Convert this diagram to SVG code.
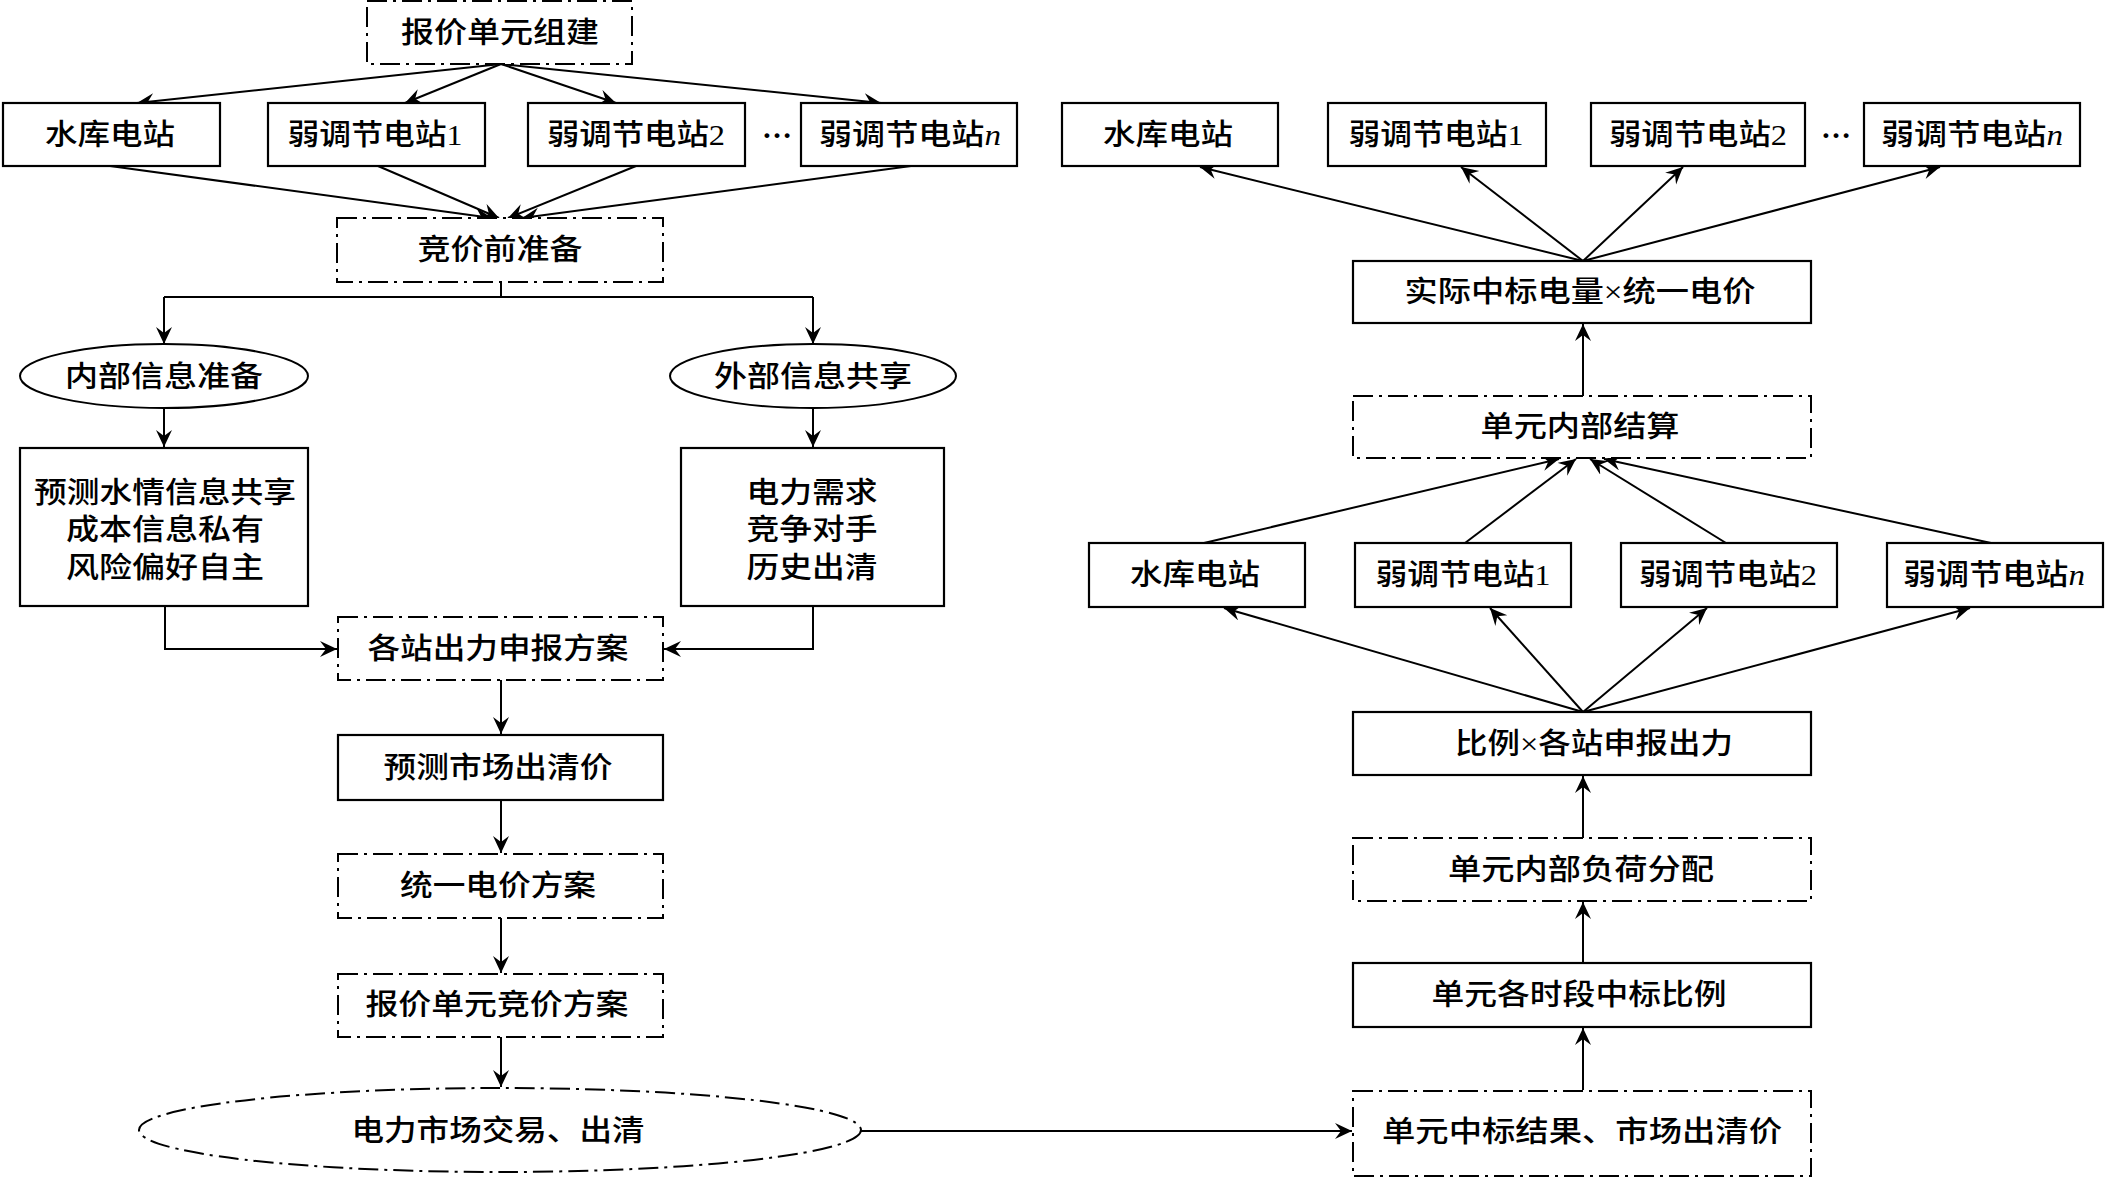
<svg xmlns="http://www.w3.org/2000/svg" width="2107" height="1178" viewBox="0 0 2107 1178">
<style>
.bx{fill:#fff;stroke:#000;stroke-width:2.2}
.dd{fill:#fff;stroke:#000;stroke-width:2;stroke-dasharray:20 6 3 6}
.t{font-family:"Liberation Serif","Noto Sans CJK SC",serif;font-size:29px;font-weight:500;fill:#000;text-anchor:middle}
.it{font-style:italic}
.dots{font-family:"Liberation Serif",serif;font-size:30px;font-weight:bold;fill:#000;text-anchor:middle}
.c{fill:none;stroke:#000;stroke-width:2}
</style>
<defs>
<marker id="ah" markerUnits="userSpaceOnUse" markerWidth="20" markerHeight="18" refX="17" refY="8" orient="auto">
<path d="M0,0 L17,8 L0,16 L6,8 z" fill="#000"/>
</marker>
</defs>
<rect width="2107" height="1178" fill="#fff"/>

<g id="connectors">
<path class="c" d="M501,64 L137,103" marker-end="url(#ah)"/>
<path class="c" d="M501,64 L405,103" marker-end="url(#ah)"/>
<path class="c" d="M501,64 L616,103" marker-end="url(#ah)"/>
<path class="c" d="M501,64 L881,103" marker-end="url(#ah)"/>
<path class="c" d="M110,166 L492,218" marker-end="url(#ah)"/>
<path class="c" d="M378,166 L499,218" marker-end="url(#ah)"/>
<path class="c" d="M636,166 L508,218" marker-end="url(#ah)"/>
<path class="c" d="M911,166 L522,218" marker-end="url(#ah)"/>
<path class="c" d="M501,282 L501,297"/>
<path class="c" d="M164,297 L813,297"/>
<path class="c" d="M164,297 L164,344" marker-end="url(#ah)"/>
<path class="c" d="M813,297 L813,344" marker-end="url(#ah)"/>
<path class="c" d="M164,408 L164,447" marker-end="url(#ah)"/>
<path class="c" d="M813,408 L813,447" marker-end="url(#ah)"/>
<path class="c" d="M165,606 L165,649 L337,649" marker-end="url(#ah)"/>
<path class="c" d="M813,606 L813,649 L664,649" marker-end="url(#ah)"/>
<path class="c" d="M501,680 L501,734" marker-end="url(#ah)"/>
<path class="c" d="M501,800 L501,853" marker-end="url(#ah)"/>
<path class="c" d="M501,918 L501,973" marker-end="url(#ah)"/>
<path class="c" d="M501,1037 L501,1087" marker-end="url(#ah)"/>
<path class="c" d="M861,1131 L1352,1131" marker-end="url(#ah)"/>
<path class="c" d="M1583,1090 L1583,1028" marker-end="url(#ah)"/>
<path class="c" d="M1583,963 L1583,902" marker-end="url(#ah)"/>
<path class="c" d="M1583,838 L1583,776" marker-end="url(#ah)"/>
<path class="c" d="M1583,712 L1224,608" marker-end="url(#ah)"/>
<path class="c" d="M1583,712 L1490,608" marker-end="url(#ah)"/>
<path class="c" d="M1583,712 L1707,608" marker-end="url(#ah)"/>
<path class="c" d="M1583,712 L1970,608" marker-end="url(#ah)"/>
<path class="c" d="M1204,543 L1559,459" marker-end="url(#ah)"/>
<path class="c" d="M1465,543 L1576,459" marker-end="url(#ah)"/>
<path class="c" d="M1726,543 L1590,459" marker-end="url(#ah)"/>
<path class="c" d="M1991,543 L1604,459" marker-end="url(#ah)"/>
<path class="c" d="M1583,396 L1583,324" marker-end="url(#ah)"/>
<path class="c" d="M1583,261 L1200,167" marker-end="url(#ah)"/>
<path class="c" d="M1583,261 L1461,167" marker-end="url(#ah)"/>
<path class="c" d="M1583,261 L1683,167" marker-end="url(#ah)"/>
<path class="c" d="M1583,261 L1940,167" marker-end="url(#ah)"/>
</g>

<g id="n_zujian"><rect class="dd" x="367" y="1" width="265" height="63"/><text class="t" x="500" y="43" textLength="198" lengthAdjust="spacingAndGlyphs">报价单元组建</text></g>

<g id="n_l_sk"><rect class="bx" x="3" y="103" width="217" height="63"/><text class="t" x="110" y="145" textLength="130" lengthAdjust="spacingAndGlyphs">水库电站</text></g>
<g id="n_l_r1"><rect class="bx" x="268" y="103" width="217" height="63"/><text class="t" x="375" y="145" textLength="175" lengthAdjust="spacingAndGlyphs">弱调节电站1</text></g>
<g id="n_l_r2"><rect class="bx" x="528" y="103" width="217" height="63"/><text class="t" x="636" y="145" textLength="178" lengthAdjust="spacingAndGlyphs">弱调节电站2</text></g>
<g id="n_l_dots"><text class="dots" x="777" y="138">…</text></g>
<g id="n_l_rn"><rect class="bx" x="801" y="103" width="216" height="63"/><text class="t" x="910" y="145" textLength="182" lengthAdjust="spacingAndGlyphs">弱调节电站<tspan class="it">n</tspan></text></g>

<g id="n_jjqzb"><rect class="dd" x="337" y="218" width="326" height="64"/><text class="t" x="500" y="260" textLength="165" lengthAdjust="spacingAndGlyphs">竞价前准备</text></g>

<g id="n_nbxx"><ellipse cx="164" cy="376" rx="144" ry="32" fill="#fff" stroke="#000" stroke-width="2"/><text class="t" x="164" y="387" textLength="198" lengthAdjust="spacingAndGlyphs">内部信息准备</text></g>
<g id="n_wbxx"><ellipse cx="813" cy="376" rx="143" ry="32" fill="#fff" stroke="#000" stroke-width="2"/><text class="t" x="813" y="387" textLength="198" lengthAdjust="spacingAndGlyphs">外部信息共享</text></g>

<g id="n_nbbox"><rect class="bx" x="20" y="448" width="288" height="158"/>
<text class="t" x="165" y="503" textLength="262" lengthAdjust="spacingAndGlyphs">预测水情信息共享</text>
<text class="t" x="165" y="540" textLength="198" lengthAdjust="spacingAndGlyphs">成本信息私有</text>
<text class="t" x="165" y="578" textLength="198" lengthAdjust="spacingAndGlyphs">风险偏好自主</text></g>
<g id="n_wbbox"><rect class="bx" x="681" y="448" width="263" height="158"/>
<text class="t" x="812" y="503" textLength="131" lengthAdjust="spacingAndGlyphs">电力需求</text>
<text class="t" x="812" y="540" textLength="131" lengthAdjust="spacingAndGlyphs">竞争对手</text>
<text class="t" x="812" y="578" textLength="131" lengthAdjust="spacingAndGlyphs">历史出清</text></g>

<g id="n_gzcl"><rect class="dd" x="338" y="617" width="325" height="63"/><text class="t" x="498" y="659" textLength="261" lengthAdjust="spacingAndGlyphs">各站出力申报方案</text></g>
<g id="n_ycsc"><rect class="bx" x="338" y="735" width="325" height="65"/><text class="t" x="498" y="778" textLength="229" lengthAdjust="spacingAndGlyphs">预测市场出清价</text></g>
<g id="n_tydj"><rect class="dd" x="338" y="854" width="325" height="64"/><text class="t" x="498" y="896" textLength="196" lengthAdjust="spacingAndGlyphs">统一电价方案</text></g>
<g id="n_bjjj"><rect class="dd" x="338" y="974" width="325" height="63"/><text class="t" x="497" y="1015" textLength="263" lengthAdjust="spacingAndGlyphs">报价单元竞价方案</text></g>
<g id="n_dlsc"><ellipse cx="500" cy="1130" rx="361" ry="42" fill="#fff" stroke="#000" stroke-width="2" stroke-dasharray="20 6 3 6"/><text class="t" x="498" y="1141" textLength="293" lengthAdjust="spacingAndGlyphs">电力市场交易、出清</text></g>

<g id="n_r_sk"><rect class="bx" x="1062" y="103" width="216" height="63"/><text class="t" x="1168" y="145" textLength="130" lengthAdjust="spacingAndGlyphs">水库电站</text></g>
<g id="n_r_r1"><rect class="bx" x="1328" y="103" width="218" height="63"/><text class="t" x="1436" y="145" textLength="175" lengthAdjust="spacingAndGlyphs">弱调节电站1</text></g>
<g id="n_r_r2"><rect class="bx" x="1591" y="103" width="214" height="63"/><text class="t" x="1698" y="145" textLength="178" lengthAdjust="spacingAndGlyphs">弱调节电站2</text></g>
<g id="n_r_dots"><text class="dots" x="1836" y="138">…</text></g>
<g id="n_r_rn"><rect class="bx" x="1864" y="103" width="216" height="63"/><text class="t" x="1972" y="145" textLength="182" lengthAdjust="spacingAndGlyphs">弱调节电站<tspan class="it">n</tspan></text></g>

<g id="n_sjzb"><rect class="bx" x="1353" y="261" width="458" height="62"/><text class="t" x="1580" y="302" textLength="351" lengthAdjust="spacingAndGlyphs">实际中标电量×统一电价</text></g>
<g id="n_nbjs"><rect class="dd" x="1353" y="396" width="458" height="62"/><text class="t" x="1580" y="437" textLength="199" lengthAdjust="spacingAndGlyphs">单元内部结算</text></g>

<g id="n_m_sk"><rect class="bx" x="1089" y="543" width="216" height="64"/><text class="t" x="1195" y="585" textLength="130" lengthAdjust="spacingAndGlyphs">水库电站</text></g>
<g id="n_m_r1"><rect class="bx" x="1355" y="543" width="216" height="64"/><text class="t" x="1463" y="585" textLength="175" lengthAdjust="spacingAndGlyphs">弱调节电站1</text></g>
<g id="n_m_r2"><rect class="bx" x="1621" y="543" width="216" height="64"/><text class="t" x="1728" y="585" textLength="178" lengthAdjust="spacingAndGlyphs">弱调节电站2</text></g>
<g id="n_m_rn"><rect class="bx" x="1887" y="543" width="216" height="64"/><text class="t" x="1994" y="585" textLength="182" lengthAdjust="spacingAndGlyphs">弱调节电站<tspan class="it">n</tspan></text></g>

<g id="n_bl"><rect class="bx" x="1353" y="712" width="458" height="63"/><text class="t" x="1594" y="754" textLength="278" lengthAdjust="spacingAndGlyphs">比例×各站申报出力</text></g>
<g id="n_fhfp"><rect class="dd" x="1353" y="838" width="458" height="63"/><text class="t" x="1581" y="880" textLength="266" lengthAdjust="spacingAndGlyphs">单元内部负荷分配</text></g>
<g id="n_zbbl"><rect class="bx" x="1353" y="963" width="458" height="64"/><text class="t" x="1579" y="1005" textLength="295" lengthAdjust="spacingAndGlyphs">单元各时段中标比例</text></g>
<g id="n_zbjg"><rect class="dd" x="1353" y="1091" width="458" height="85"/><text class="t" x="1582" y="1142" textLength="400" lengthAdjust="spacingAndGlyphs">单元中标结果、市场出清价</text></g>
</svg>
